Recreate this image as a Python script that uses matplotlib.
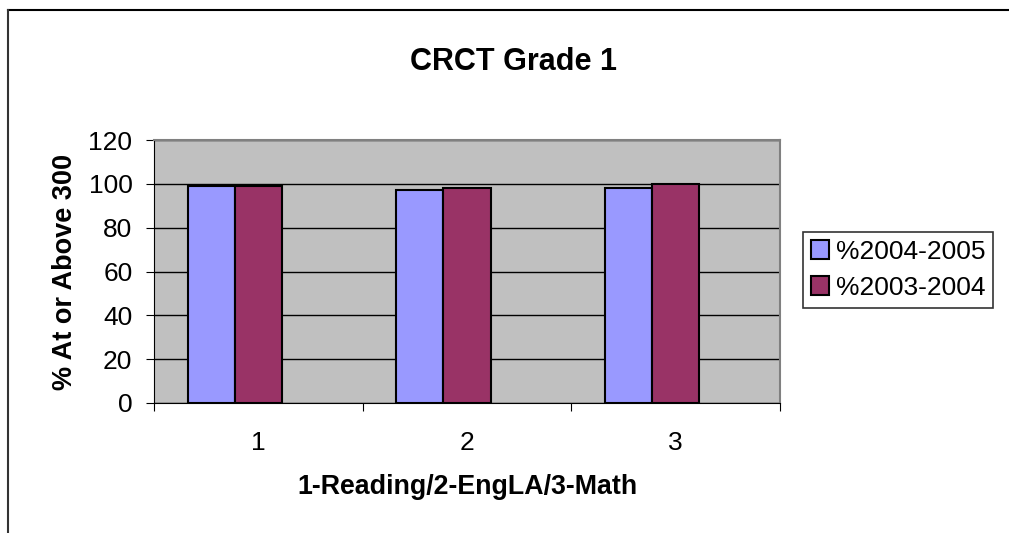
import numpy as np
import matplotlib.pyplot as plt
from matplotlib.lines import Line2D

plt.rcParams['font.family'] = ['Liberation Sans', 'DejaVu Sans']

categories = ['1', '2', '3']
s2005 = [99, 97, 98]
s2004 = [99, 98, 100]
labels = ['%2004-2005', '%2003-2004']

W, H = 1009, 533
fig = plt.figure(figsize=(W / 100, H / 100), dpi=100)
ax = fig.add_axes([154 / W, 1 - 403 / H, (780 - 154) / W, (403 - 140) / H])
ax.set_facecolor('#c0c0c0')

x = np.arange(1, len(categories) + 1)
w = 0.226
ax.bar(x - w, s2005, w, color='#9999ff', edgecolor='black', linewidth=1.5, label=labels[0], zorder=3)
ax.bar(x, s2004, w, color='#993366', edgecolor='black', linewidth=1.5, label=labels[1], zorder=3)

ax.set_xlim(0.5, 3.5)
ax.set_ylim(0, 120)
ax.set_yticks(np.arange(0, 121, 20))
ax.yaxis.grid(True, color='black', linewidth=1)
ax.set_axisbelow(True)
ax.tick_params(axis='y', labelsize=19, length=5.5, direction='out', pad=10)

ax.set_xticks([0.5, 1.5, 2.5, 3.5])
ax.set_xticklabels([])
ax.set_xticks(x, minor=True)
ax.set_xticklabels(categories, minor=True)
ax.tick_params(axis='x', which='major', length=5.5, direction='out')
ax.tick_params(axis='x', which='minor', length=0, labelsize=19, pad=20)

for side in ['top', 'right']:
    ax.spines[side].set_color('#808080')
    ax.spines[side].set_linewidth(1.5)
ax.spines['left'].set_color('black')
ax.spines['bottom'].set_color('black')

ax.set_xlabel('1-Reading/2-EngLA/3-Math', fontsize=19.3, fontweight='bold')
ax.set_ylabel('% At or Above 300', fontsize=19.5, fontweight='bold')
ax.xaxis.set_label_coords(0.5, (403 - 487) / 263, transform=ax.transAxes)
ax.yaxis.set_label_coords((65 - 154) / 626, 0.5, transform=ax.transAxes)
ax.xaxis.label.set_va('center')
ax.yaxis.label.set_va('center')
fig.text(513 / W, 1 - 62 / H, 'CRCT Grade 1', fontsize=22, fontweight='bold', ha='center', va='center')

leg = fig.legend(loc='upper left', bbox_to_anchor=(803 / W, 1 - 232 / H), fontsize=19,
                 frameon=True, fancybox=False, shadow=False, handlelength=0.7, handleheight=0.7,
                 handletextpad=0.25, borderpad=0.3, labelspacing=0.45, borderaxespad=0)
leg.get_frame().set_edgecolor('black')
leg.get_frame().set_linewidth(1.2)

# outer frame (top and left edges only)
fig.add_artist(Line2D([8 / W, 1], [1 - 10 / H, 1 - 10 / H], transform=fig.transFigure, color='black', linewidth=1.5))
fig.add_artist(Line2D([8 / W, 8 / W], [0, 1 - 10 / H], transform=fig.transFigure, color='#333333', linewidth=1.5))

fig.savefig('out.png', dpi=100)
